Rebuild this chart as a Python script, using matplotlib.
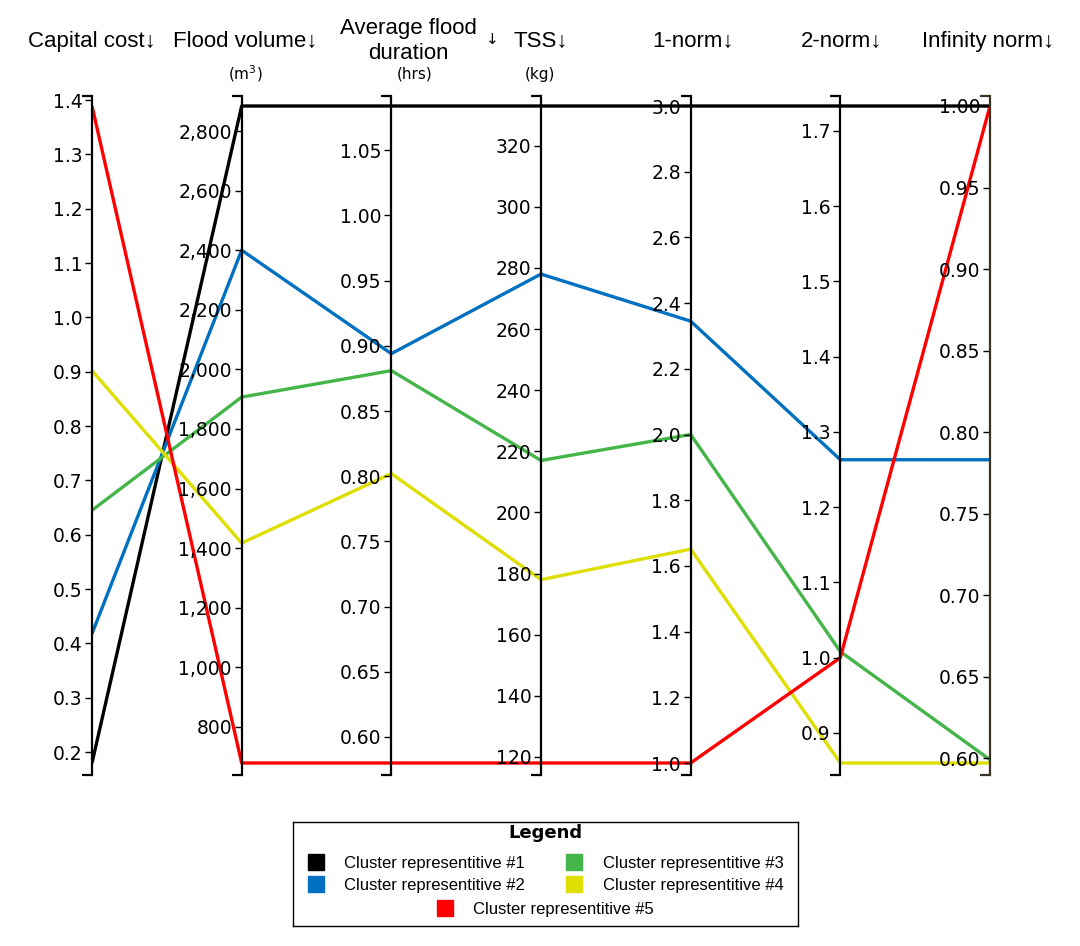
import matplotlib
matplotlib.use("Agg")
import matplotlib.pyplot as plt
from matplotlib.lines import Line2D
from matplotlib.ticker import FuncFormatter
import numpy as np

W, H = 1080, 946

variables = ["Capital cost", "Flood volume", "Average flood\nduration", "TSS",
             "1-norm", "2-norm", "Infinity norm"]
units = ["", "(m$^3$)", "(hrs)", "(kg)", "", "", ""]

clusters = ["Cluster representitive #1", "Cluster representitive #2",
            "Cluster representitive #3", "Cluster representitive #4",
            "Cluster representitive #5"]
colors = ["#000000", "#0070c0", "#44b549", "#dede00", "#ff0000"]

# values per cluster, one per variable
c1 = [0.18, 2884, 1.084, 333, 3.0, 1.733, 1.00]
c2 = [0.418, 2400, 0.894, 278, 2.345, 1.263, 0.783]
c3 = [0.645, 1907, 0.881, 217, 2.0, 1.008, 0.599]
c4 = [0.902, 1417, 0.802, 178, 1.651, 0.86, 0.597]
c5 = [1.389, 679, 0.58, 118, 1.0, 1.0, 1.00]
data = np.array([c1, c2, c3, c4, c5])

tick_vals = [
    np.arange(0.2, 1.41, 0.1),
    np.arange(800, 2801, 200),
    np.arange(0.60, 1.051, 0.05),
    np.arange(120, 321, 20),
    np.arange(1.0, 3.01, 0.2),
    np.arange(0.9, 1.71, 0.1),
    np.arange(0.60, 1.001, 0.05),
]
fmts = ["{:.1f}", "{:,.0f}", "{:.2f}", "{:.0f}", "{:.1f}", "{:.1f}", "{:.2f}"]

fig = plt.figure(figsize=(W / 100, H / 100), dpi=100)

x0, x1 = 92, 990
ytop, ybot = 96, 775
dtop, dbot = 106, 763
host = fig.add_axes([x0 / W, 1 - ybot / H, (x1 - x0) / W, (ybot - ytop) / H])
pad_lo = -(ybot - dbot) / (dbot - dtop)
pad_hi = 1 + (dtop - ytop) / (dbot - dtop)
host.set_xlim(0, 6)
host.set_ylim(pad_lo, pad_hi)
host.axis("off")
host.set_zorder(10)

lo = data.min(axis=0)
hi = data.max(axis=0)
norm = (data - lo) / (hi - lo)

n = len(variables)
for i in range(n):
    ax = host.twinx()
    ax.set_ylim(lo[i] + pad_lo * (hi[i] - lo[i]), lo[i] + pad_hi * (hi[i] - lo[i]))
    for s in ["right", "top", "bottom"]:
        ax.spines[s].set_visible(False)
    ax.spines["left"].set_position(("axes", i / (n - 1)))
    scol = "#3a3222" if i == n - 1 else "black"
    ax.spines["left"].set_color(scol)
    ax.spines["left"].set_linewidth(1.6)
    ax.yaxis.set_ticks_position("left")
    ax.set_yticks(tick_vals[i])
    f = fmts[i]
    ax.yaxis.set_major_formatter(FuncFormatter(lambda v, p, f=f: f.format(v)))
    ax.set_yticks(list(ax.get_ylim()), minor=True)
    ax.tick_params(axis="y", which="major", length=5, width=1, pad=2,
                   labelsize=13.5, colors="black")
    ax.tick_params(axis="y", which="minor", length=7, width=1.6, color=scol)
    ax.get_xaxis().set_visible(False)
    for lab in ax.get_yticklabels():
        lab.set_fontfamily("DejaVu Sans")

xs = np.arange(n)
for k in range(len(clusters)):
    host.plot(xs, norm[k], color=colors[k], lw=2.4, solid_capstyle="butt")

# titles
title_x = [92, 245, 408, 541, 693, 842, 988]
for i, name in enumerate(variables):
    if "\n" in name:
        fig.text(title_x[i] / W, 1 - 41 / H, name, ha="center", va="center",
                 fontsize=16, family="Liberation Sans", linespacing=1.3)
        fig.text(492 / W, 1 - 40 / H, "↓", ha="center", va="center", fontsize=11,
                 family="DejaVu Sans")
    else:
        fig.text(title_x[i] / W, 1 - 41 / H, name + "↓", ha="center", va="center",
                 fontsize=16, family="Liberation Sans")
unit_x = [0, 245, 415, 540]
for i in range(1, 4):
    fig.text(unit_x[i] / W, 1 - 74 / H, units[i], ha="center", va="center",
             fontsize=11, family="DejaVu Sans")

# legend box
lax = fig.add_axes([293 / W, 1 - 926 / H, (798 - 293) / W, (926 - 822) / H])
lax.set_xticks([])
lax.set_yticks([])
for s in lax.spines.values():
    s.set_linewidth(1.0)
lax.text(0.5, 0.894, "Legend", ha="center", va="center", transform=lax.transAxes,
         fontsize=13, fontweight="bold", family="DejaVu Sans")
handles = [Line2D([], [], marker="s", ls="none", color=c, markersize=12) for c in colors]
leg1 = lax.legend(handles[:4], clusters[:4], ncol=2, loc="center",
                  bbox_to_anchor=(0.5, 0.495), frameon=False,
                  prop={"family": "Liberation Sans", "size": 12},
                  handletextpad=1.2, columnspacing=2.45, labelspacing=0.44,
                  handlelength=1.0)
lax.add_artist(leg1)
lax.legend(handles[4:], clusters[4:], loc="center", bbox_to_anchor=(0.5, 0.163),
           frameon=False, prop={"family": "Liberation Sans", "size": 12},
           handletextpad=1.2, handlelength=1.0)

fig.savefig("out.png", dpi=100)
